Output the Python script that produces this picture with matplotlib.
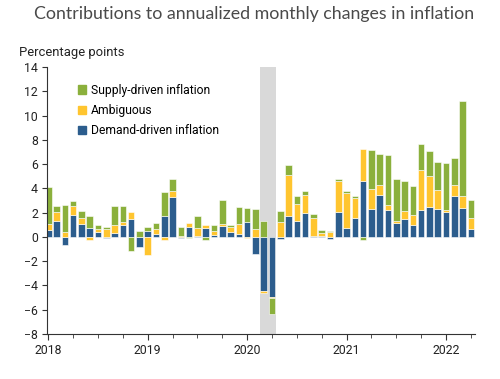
import numpy as np
import matplotlib
matplotlib.use('Agg')
import matplotlib.pyplot as plt
from matplotlib.patches import Patch

# monthly contributions, Jan 2018 - Apr 2022 (percentage points)
demand = [0.58, 1.35, -0.63, 1.81, 1.10, 0.74, 0.41, -0.11, 0.33, 0.99, 1.48, -0.80,
          0.49, 0.22, 1.70, 3.32, -0.10, 0.82, 0.10, 0.77, 0.14, 0.93, 0.41, 0.22,
          1.24, -1.43, -4.45, -4.95, -0.14, 1.70, 1.32, 1.95, 0.10, 0.08, -0.16, 2.03,
          0.77, 1.57, 4.59, 2.28, 3.49, 2.20, 1.15, 1.51, 0.96, 2.25, 2.50, 2.28,
          2.09, 3.38, 2.34, 0.63]
ambiguous = [0.46, 0.68, 0.41, 0.72, 0.44, -0.22, 0.28, 0.69, 0.66, 0.25, 0.55, 0.00,
             -1.48, 0.44, -0.28, 0.44, 0.10, 0.35, 0.60, 0.19, 0.35, 0.11, 0.44, 0.88,
             -0.08, 0.69, -0.19, -0.11, 1.24, 3.41, 1.35, 1.51, 1.43, 0.20, 0.41, 2.61,
             2.86, 1.62, 2.69, 1.65, 0.80, 0.44, 0.19, 0.66, 0.82, 3.30, 2.50, 1.57,
             0.16, 0.88, 0.99, 0.91]
supply = [3.05, 0.50, 2.25, 0.41, 0.63, 1.02, 0.27, 0.13, 1.54, 1.29, -1.13, 0.47,
          0.33, 0.52, 1.98, 0.99, 0.70, -0.10, 1.05, -0.22, 0.47, 1.98, 0.17, 1.35,
          1.12, 1.59, 1.29, -1.29, 0.93, 0.82, 0.71, 0.36, 0.33, 0.25, 0.05, 0.16,
          0.16, 0.14, -0.27, 3.21, 2.55, 4.09, 3.41, 2.47, 2.45, 2.14, 2.06, 2.36,
          3.82, 2.23, 7.88, 1.46]
year_labels = ['2018', '2019', '2020', '2021', '2022']

blue = '#2c5d8d'
yellow = '#ffc52f'
green = '#8bb03c'

x = np.arange(len(demand))

fig = plt.figure(figsize=(5, 3.79), dpi=100)
ax = fig.add_axes([0.094, 0.119, 0.856, 0.704])

# covid recession shading (Mar-Apr 2020)
ax.axvspan(25.5, 27.5, color='#d9d9d9', lw=0, zorder=0)

pos = np.zeros(len(x))
neg = np.zeros(len(x))
for vals, col in [(demand, blue), (ambiguous, yellow), (supply, green)]:
    v = np.array(vals)
    bottom = np.where(v >= 0, pos, neg)
    ax.bar(x, v, width=0.8, bottom=bottom, color=col, edgecolor='white',
           linewidth=0.4, zorder=2)
    pos += np.where(v >= 0, v, 0)
    neg += np.where(v < 0, v, 0)

ax.set_xlim(-0.16, 51.5)
ax.set_ylim(-8, 14)
ax.set_yticks(np.arange(-8, 15, 2))
ax.set_xticks(np.arange(0, 52, 12))
ax.set_xticklabels(year_labels)
ax.set_xticks(np.arange(0, 52, 3), minor=True)

for s in ['top', 'right']:
    ax.spines[s].set_visible(False)
for s in ['left', 'bottom']:
    ax.spines[s].set_color('#333333')
    ax.spines[s].set_linewidth(0.8)

ax.tick_params(axis='both', which='both', direction='out', color='#333333',
               labelsize=8.8, labelcolor='#222222')
ax.tick_params(axis='x', which='major', length=4, pad=3)
ax.tick_params(axis='x', which='minor', length=3)
ax.tick_params(axis='y', length=3.5, pad=3)
for lab in ax.get_xticklabels() + ax.get_yticklabels():
    lab.set_family('Roboto')

handles = [Patch(color=green, label='Supply-driven inflation'),
           Patch(color=yellow, label='Ambiguous'),
           Patch(color=blue, label='Demand-driven inflation')]
ax.legend(handles=handles, loc='upper left', bbox_to_anchor=(0.06, 0.955),
          frameon=False, prop={'family': 'Roboto', 'size': 8.7},
          handlelength=0.7, handleheight=0.7, handletextpad=0.4,
          labelspacing=0.6, borderaxespad=0)

fig.text(0.509, 0.963, 'Contributions to annualized monthly changes in inflation',
         ha='center', va='center', fontsize=12.8, family='Lato',
         color='#4a4a4a')
fig.text(0.038, 0.862, 'Percentage points', ha='left', va='center',
         fontsize=9.4, family='Roboto', color='#222222')

fig.savefig('out.png', dpi=100)
